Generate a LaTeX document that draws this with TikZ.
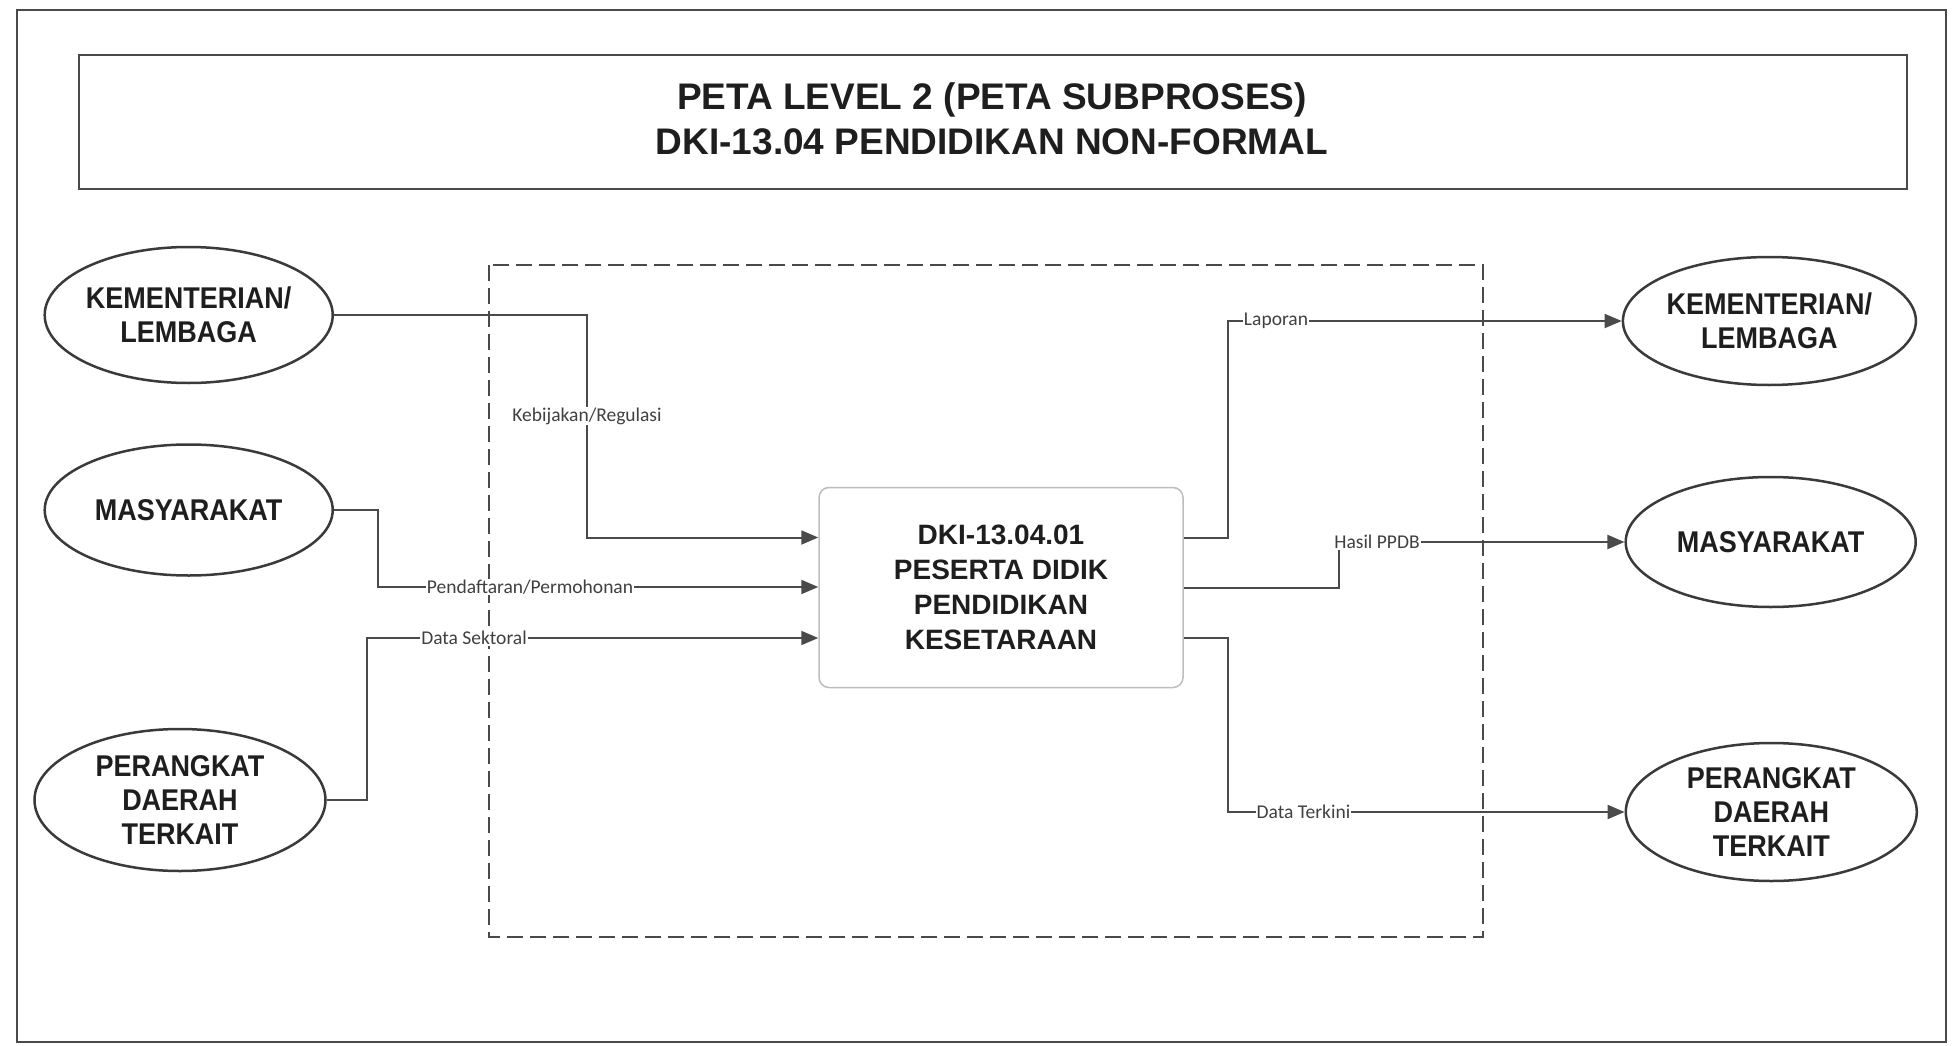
\documentclass[tikz,border=0pt]{standalone}
\usepackage{fontspec}
\setmainfont{Liberation Sans}
\newfontfamily\labfont{Carlito}
\newfontfamily\ellfont[FakeStretch=0.9]{Liberation Sans}
\usetikzlibrary{shapes.geometric,arrows.meta}
\definecolor{lc}{HTML}{4A4A4A}
\definecolor{ec}{HTML}{3A3A3A}
\definecolor{tc}{HTML}{1E1E1E}
\definecolor{bc}{HTML}{BDBDBD}
\tikzset{
  ent/.style={ellipse, draw=ec, line width=2.5pt, inner sep=0pt, fill=white},
  enttext/.style={align=center, text=tc, font=\ellfont\bfseries\fontsize{30}{34}\selectfont},
  procbox/.style={draw=bc, line width=1.5pt, rounded corners=10pt, fill=white, align=center,
     text=tc, font=\bfseries\fontsize{28}{35}\selectfont},
  conn/.style={draw=lc, line width=2pt, -{Triangle[length=17pt,width=14pt]}},
  lab/.style={font=\labfont\fontsize{19.5}{21}\selectfont, text=tc!85!white, fill=white, inner sep=1pt},
  titletext/.style={font=\bfseries\fontsize{37}{45}\selectfont, text=tc},
}
\begin{document}
\begin{tikzpicture}[x=1pt,y=-1pt]
\fill[white] (0,0) rectangle (1952,1046);
\useasboundingbox (0,0) rectangle (1952,1046);
% outer frame
\draw[lc, line width=2pt] (17,10) rectangle (1946,1042);
% title box
\node[draw=lc, line width=2pt, minimum width=1828pt, minimum height=134pt, inner sep=0pt] (TB) at (992.5,122) {};
\node[titletext, anchor=base] (T1) at (992,109.6) {PETA LEVEL 2 (PETA SUBPROSES)};
\node[titletext, anchor=base] (T2) at (992,154.4) {DKI-13.04 PENDIDIKAN NON-FORMAL};
% dashed boundary
\draw[lc, line width=1.8pt, dash pattern=on 16pt off 7pt] (489,265) rectangle (1483,937);
% left entities
\node[ent, minimum width=288pt, minimum height=136pt, label={[enttext]center:{KEMENTERIAN/\\LEMBAGA}}] (LK) at (188.7,315) {};
\node[ent, minimum width=288pt, minimum height=131pt, label={[enttext]center:{MASYARAKAT}}] (LM) at (188.7,510) {};
\node[ent, minimum width=291pt, minimum height=142pt, label={[enttext]center:{PERANGKAT\\DAERAH\\TERKAIT}}] (LP) at (180,800) {};
% right entities
\node[ent, minimum width=293pt, minimum height=128pt, label={[enttext]center:{KEMENTERIAN/\\LEMBAGA}}] (RK) at (1769.4,321) {};
\node[ent, minimum width=290pt, minimum height=130pt, label={[enttext]center:{MASYARAKAT}}] (RM) at (1770.7,542) {};
\node[ent, minimum width=291pt, minimum height=138pt, label={[enttext]center:{PERANGKAT\\DAERAH\\TERKAIT}}] (RP) at (1771.3,812) {};
% process box
\node[procbox, minimum width=364pt, minimum height=200pt] (P) at (1001,587.5) {DKI-13.04.01\\PESERTA DIDIK\\PENDIDIKAN\\KESETARAAN};
% inputs
\draw[conn] (LK.east) -| (586.5,537.5) -- (P.west |- 0,537.5);
\draw[conn] (LM.east) -| (377.5,587) -- (P.west |- 0,587);
\draw[conn] (LP.east) -| (367,638) -- (P.west |- 0,638);
% outputs
\draw[conn] (P.east |- 0,537.5) -| (1227.7,321) -- (RK.west);
\draw[conn] (P.east |- 0,588) -| (1339,542) -- (RM.west);
\draw[conn] (P.east |- 0,638) -| (1227.7,812) -- (RP.west);
% labels
\node[lab] (L1) at (587,416) {Kebijakan/Regulasi};
\node[lab] (L2) at (530,587) {Pendaftaran/Permohonan};
\node[lab] (L3) at (474,638) {Data Sektoral};
\node[lab] (L4) at (1276,321) {Laporan};
\node[lab] (L5) at (1377,542) {Hasil PPDB};
\node[lab] (L6) at (1303.5,812) {Data Terkini};
\end{tikzpicture}
\end{document}
